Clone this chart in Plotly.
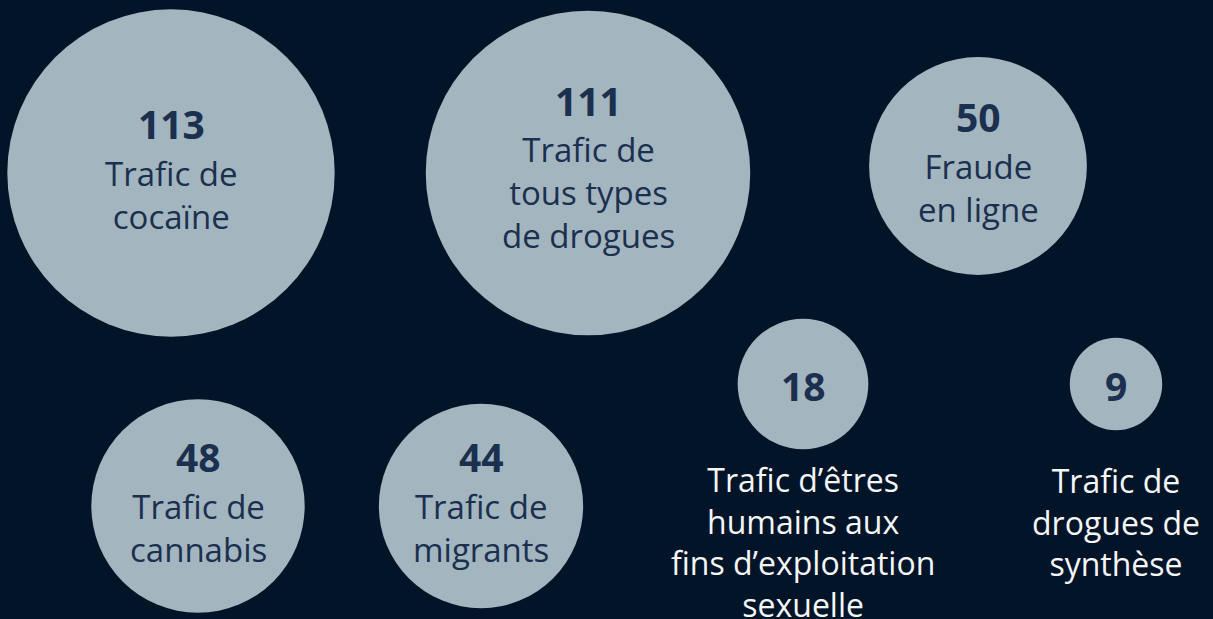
import math
import plotly.graph_objects as go

# Case counts per crime category
values = [113, 111, 50, 48, 44, 18, 9]
labels = [
    "Trafic de<br>cocaïne",
    "Trafic de<br>tous types<br>de drogues",
    "Fraude<br>en ligne",
    "Trafic de<br>cannabis",
    "Trafic de<br>migrants",
    "Trafic d’êtres<br>humains aux<br>fins d’exploitation<br>sexuelle",
    "Trafic de<br>drogues de<br>synthèse",
]

# Layout: bubble centres in pixel space
cx = [171, 588, 978, 198, 481, 803, 1116]
cy = [173, 173, 166, 506, 506, 384, 384]

W, H = 1213, 619
BG = "#021428"
BUBBLE = "#a3b5bf"
NAVY = "#1b2f4e"
WHITE = "#f4f6f8"
FONT = "Open Sans"
K = 15.4            # px radius per sqrt(value)
NUM_SIZE = 39
LAB_SIZE = 33       # labels inside bubbles
OUT_SIZE = 32       # labels under small bubbles
LINE_GAP = 41       # nominal distance between label lines
NUM_GAP = 51.5      # number -> first label line
BELOW_TOP = 480     # first line of labels placed under small bubbles
INSIDE_MIN = 40     # bubbles at least this big carry their label inside

diam = [2 * K * math.sqrt(v) for v in values]

fig = go.Figure(
    go.Scatter(
        x=cx, y=cy, mode="markers",
        marker=dict(size=diam, sizemode="diameter", color=BUBBLE,
                    line=dict(width=0), opacity=1),
        hoverinfo="skip",
    )
)


def text_block(x, y, txt, size, color, bold=False):
    return dict(x=x, y=y, text=f"<b>{txt}</b>" if bold else txt,
                showarrow=False, xanchor="center", yanchor="middle",
                align="center",
                font=dict(family=FONT, size=size, color=color))


annotations = []
for v, lab, x, y in zip(values, labels, cx, cy):
    n = lab.count("<br>") + 1
    if v >= INSIDE_MIN:
        num_y = y - 50 - (n - 2) * 23
        annotations.append(text_block(x, num_y, v, NUM_SIZE, NAVY, bold=True))
        first = num_y + NUM_GAP
        annotations.append(text_block(x, first + (n - 1) * LINE_GAP / 2,
                                      lab, LAB_SIZE, NAVY))
    else:
        annotations.append(text_block(x, y + 1, v, NUM_SIZE, NAVY, bold=True))
        annotations.append(text_block(x, BELOW_TOP + (n - 1) * OUT_SIZE * 1.3 / 2,
                                      lab, OUT_SIZE, WHITE))

fig.update_layout(
    width=W, height=H,
    margin=dict(l=0, r=0, t=0, b=0),
    paper_bgcolor=BG, plot_bgcolor=BG,
    xaxis=dict(range=[0, W], visible=False, fixedrange=True),
    yaxis=dict(range=[H, 0], visible=False, fixedrange=True),
    showlegend=False,
    annotations=annotations,
)

fig.write_html("out.html", config={"displayModeBar": False})
